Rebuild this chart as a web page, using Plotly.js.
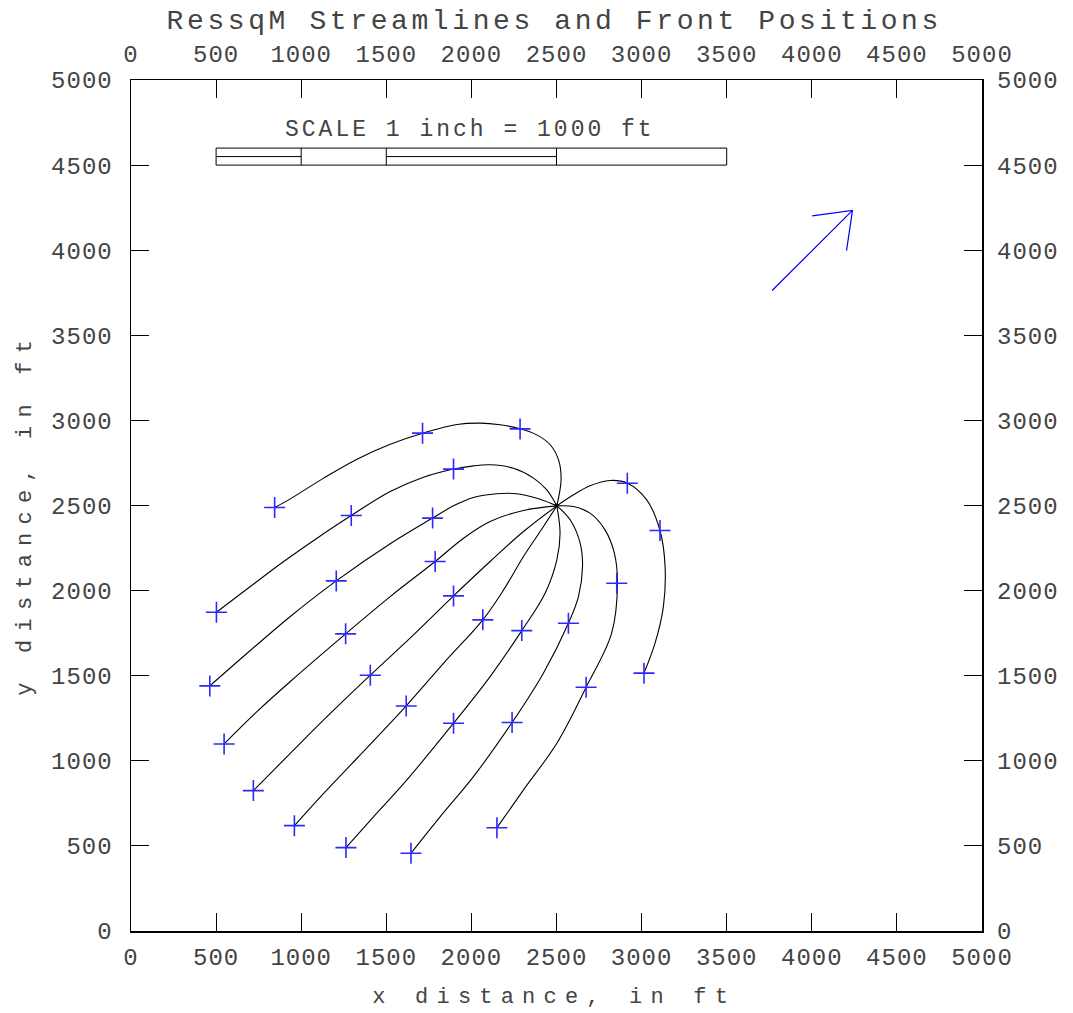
<!DOCTYPE html>
<html>
<head>
<meta charset="utf-8">
<script src="https://cdn.plot.ly/plotly-3.0.1.min.js"></script>
<style>
  html, body { margin: 0; padding: 0; background: #fff; }
  #chart { width: 1073px; height: 1013px; }
  .xtick text, .ytick text, .x2tick text, .y2tick text { letter-spacing: 1px; }
</style>
</head>
<body>
<div id="chart"></div>
<script>
// ---- Data (ft) ----
const wellX = [2500];
const wellY = [2500];

const line1X = [2502, 2527, 2512, 2463, 2384, 2286, 2169, 2052, 1915, 1713, 1523, 1328, 1132, 936, 844];
const line1Y = [2498, 2651, 2768, 2857, 2915, 2951, 2974, 2984, 2976, 2925, 2860, 2772, 2661, 2539, 2488];
const line2X = [2502, 2443, 2365, 2247, 2110, 2012, 1895, 1719, 1523, 1294, 1093, 897, 701, 502];
const line2Y = [2498, 2592, 2661, 2719, 2739, 2733, 2714, 2666, 2582, 2441, 2308, 2171, 2024, 1873];
const line3X = [2502, 2404, 2267, 2149, 2012, 1895, 1772, 1523, 1206, 936, 701, 463];
const line3Y = [2498, 2537, 2569, 2569, 2547, 2498, 2426, 2275, 2057, 1848, 1648, 1440];
const line4X = [2502, 2306, 2110, 1954, 1787, 1523, 1261, 936, 740, 547];
const line4Y = [2498, 2471, 2406, 2308, 2171, 1965, 1746, 1466, 1289, 1099];
const line5X = [2502, 2306, 2110, 1895, 1660, 1406, 1132, 936, 719];
const line5Y = [2498, 2347, 2171, 1969, 1740, 1503, 1240, 1044, 825];
const line6X = [2502, 2404, 2306, 2189, 2067, 1836, 1617, 1328, 1132, 960];
const line6Y = [2498, 2347, 2200, 2004, 1828, 1573, 1323, 1015, 809, 619];
const line7X = [2502, 2521, 2502, 2433, 2296, 2110, 1895, 1621, 1426, 1263];
const line7Y = [2498, 2337, 2181, 1985, 1765, 1495, 1221, 888, 672, 490];
const line8X = [2502, 2580, 2639, 2653, 2629, 2570, 2423, 2239, 2012, 1817, 1645];
const line8Y = [2498, 2416, 2279, 2141, 1965, 1808, 1515, 1225, 907, 672, 457];
const line9X = [2502, 2600, 2697, 2785, 2840, 2858, 2824, 2674, 2502, 2306, 2150];
const line9Y = [2498, 2494, 2455, 2357, 2220, 2043, 1750, 1432, 1103, 829, 607];
const line10X = [2502, 2600, 2697, 2815, 2917, 3030, 3108, 3138, 3128, 3079, 3014];
const line10Y = [2498, 2563, 2616, 2647, 2631, 2533, 2353, 2141, 1906, 1691, 1515];

const frontX = [1713, 2286, 844,
                1895, 1294, 502,
                1772, 1206, 463,
                1787, 1261, 547,
                1895, 1406, 719,
                2067, 1617, 960,
                2296, 1895, 1263,
                2570, 2239, 1645,
                2854, 2674, 2150,
                2916, 3108, 3014];
const frontY = [2925, 2950, 2488,
                2714, 2441, 1873,
                2426, 2057, 1440,
                2171, 1746, 1099,
                1969, 1503, 825,
                1828, 1322, 619,
                1765, 1221, 490,
                1808, 1225, 457,
                2043, 1432, 607,
                2631, 2353, 1515];

const arrowX = [3767, 4239, null, 4002, 4239, 4204];
const arrowY = [3763, 4234, null, 4202, 4234, 3998];

const scaleBarEdges = [500, 1000, 1500, 2500, 3500];
const scaleBarBottom = 4500;
const scaleBarTop = 4600;
const scaleBarMid = 4550;
const scaleBarFilled = [[500, 1000], [1500, 2500]];

const tickVals = [0, 500, 1000, 1500, 2000, 2500, 3000, 3500, 4000, 4500, 5000];
const tickText = tickVals.map(String);

// ---- Traces ----
const lines = [
  [line1X, line1Y], [line2X, line2Y], [line3X, line3Y], [line4X, line4Y], [line5X, line5Y],
  [line6X, line6Y], [line7X, line7Y], [line8X, line8Y], [line9X, line9Y], [line10X, line10Y]
];
const traces = lines.map(([x, y]) => ({
  x: x, y: y, type: 'scatter', mode: 'lines',
  line: { color: '#000', width: 1.1, shape: 'spline', smoothing: 1 },
  hoverinfo: 'skip', showlegend: false
}));
traces.push({
  x: frontX, y: frontY, type: 'scatter', mode: 'markers',
  marker: { symbol: 'cross-thin-open', size: 15, color: '#2a2aff', line: { color: '#2a2aff', width: 1.6 } },
  showlegend: false
});
traces.push({
  x: wellX, y: wellY, type: 'scatter', mode: 'markers',
  marker: { symbol: 'circle', size: 4, color: '#000' }, showlegend: false
});
traces.push({
  x: arrowX, y: arrowY, type: 'scatter', mode: 'lines',
  line: { color: '#0000ff', width: 1.2 }, showlegend: false, hoverinfo: 'skip'
});
// invisible trace to anchor top/right axes
traces.push({ x: [0, 5000], y: [0, 5000], xaxis: 'x2', yaxis: 'y2', mode: 'markers',
  marker: { opacity: 0 }, showlegend: false, hoverinfo: 'skip', type: 'scatter' });

// ---- Shapes (scale bar) ----
const shapes = [];
shapes.push({ type: 'rect', xref: 'x', yref: 'y', x0: scaleBarEdges[0], x1: scaleBarEdges[scaleBarEdges.length - 1],
  y0: scaleBarBottom, y1: scaleBarTop, line: { color: '#000', width: 1 } });
scaleBarEdges.slice(1, -1).forEach(v => shapes.push({ type: 'line', xref: 'x', yref: 'y',
  x0: v, x1: v, y0: scaleBarBottom, y1: scaleBarTop, line: { color: '#000', width: 1 } }));
scaleBarFilled.forEach(([a, b]) => shapes.push({ type: 'line', xref: 'x', yref: 'y',
  x0: a, x1: b, y0: scaleBarMid, y1: scaleBarMid, line: { color: '#000', width: 1 } }));

const textColor = '#444';
const monoFamily = 'Liberation Mono, DejaVu Sans Mono, monospace';
const tickFont = { family: monoFamily, size: 24, color: textColor };
const axisCommon = {
  range: [0, 5000], tickmode: 'array', tickvals: tickVals, ticktext: tickText,
  showgrid: false, zeroline: false, tickfont: tickFont, fixedrange: true
};

const layout = {
  width: 1073, height: 1013,
  margin: { l: 131, r: 91, t: 80, b: 82, pad: 0 },
  paper_bgcolor: '#fff', plot_bgcolor: '#fff',
  showlegend: false,
  xaxis: Object.assign({}, axisCommon, {
    side: 'bottom', ticks: 'inside', ticklen: 18, tickcolor: '#000', tickwidth: 1,
    showline: true, linecolor: '#000', linewidth: 1.5, mirror: 'ticks', ticklabelstandoff: 4
  }),
  xaxis2: Object.assign({}, axisCommon, {
    side: 'top', overlaying: 'x', anchor: 'y2', ticks: '', showline: false, ticklabelstandoff: 12
  }),
  yaxis: Object.assign({}, axisCommon, {
    side: 'left', ticks: 'inside', ticklen: 18, tickcolor: '#000', tickwidth: 1,
    showline: true, linecolor: '#000', linewidth: 1.5, mirror: 'ticks', ticklabelstandoff: 12
  }),
  yaxis2: Object.assign({}, axisCommon, {
    side: 'right', overlaying: 'y', anchor: 'x2', ticks: '', showline: false, ticklabelstandoff: 14
  }),
  shapes: shapes,
  annotations: [
    { text: 'RessqM Streamlines and Front Positions', xref: 'paper', yref: 'paper',
      x: 0.498, y: 1, yshift: 59, xanchor: 'center', yanchor: 'middle', showarrow: false,
      font: { family: monoFamily, size: 28, color: textColor } },
    { text: 'SCALE 1 inch = 1000 ft', xref: 'x', yref: 'y', x: 1990, y: 4705,
      xanchor: 'center', yanchor: 'middle', showarrow: false,
      font: { family: monoFamily, size: 23, color: textColor } },
    { text: 'x distance, in ft', xref: 'paper', yref: 'paper', x: 0.497, y: 0, yshift: -66,
      xanchor: 'center', yanchor: 'middle', showarrow: false,
      font: { family: monoFamily, size: 22, color: textColor } },
    { text: 'y distance, in ft', xref: 'paper', yref: 'paper', x: 0, y: 0.49, xshift: -106,
      xanchor: 'center', yanchor: 'middle', showarrow: false, textangle: -90,
      font: { family: monoFamily, size: 22, color: textColor } }
  ]
};

Plotly.newPlot('chart', traces, layout, { displayModeBar: false, staticPlot: true }).then(() => {
  const anns = document.querySelectorAll('.annotation-text');
  const spacing = [3.6, 3, 8.2, 8.2];
  anns.forEach((el, i) => { el.style.letterSpacing = (spacing[i] || 3) + 'px'; });
});
</script>
</body>
</html>
